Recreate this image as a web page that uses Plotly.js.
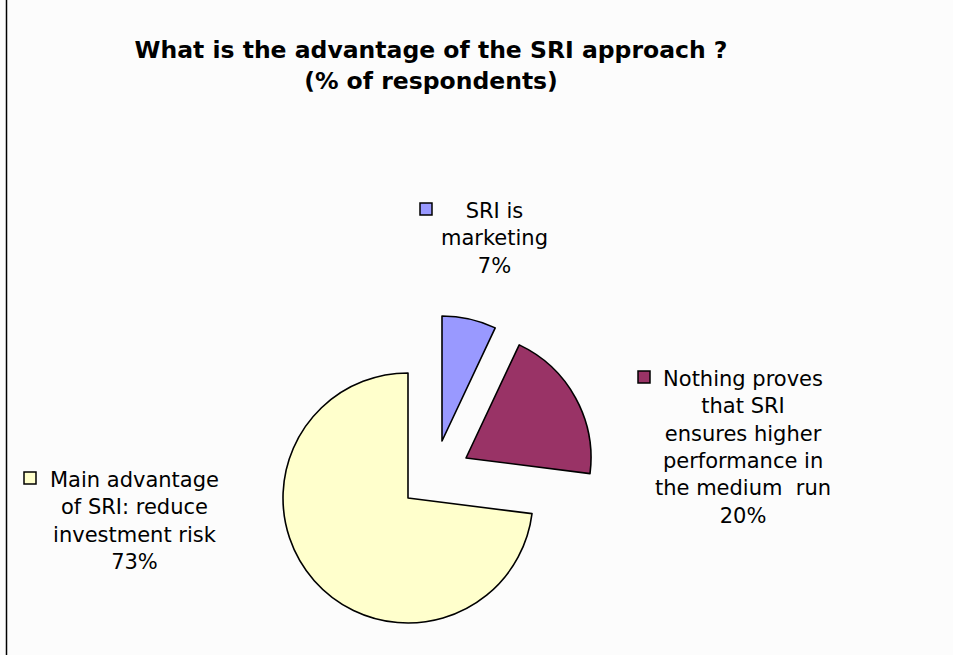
<!DOCTYPE html>
<html>
<head>
<meta charset="utf-8">
<script src="https://cdn.plot.ly/plotly-3.0.1.min.js"></script>
<style>html,body{margin:0;padding:0;background:#fcfcfc;overflow:hidden;}</style>
</head>
<body>
<div id="chart" style="width:953px;height:655px;"></div>
<script>
// ---- data ----
var categories = ["SRI is<br>marketing", "Nothing proves<br>that SRI<br>ensures higher<br>performance in<br>the medium  run", "Main advantage<br>of SRI: reduce<br>investment risk"];
var values = [7, 20, 73];
var colors = ["#9999FF", "#993366", "#FFFFCC"];
var titleText = "<b>What is the advantage of the SRI approach ?<br>(% of respondents)</b>";

// ---- layout helpers (pixel -> paper) ----
var W = 953, H = 655;
function px(x) { return x / W; }
function py(y) { return 1 - y / H; }

// each slice drawn by its own pie trace (Excel-style explosion offsets)
var sliceCenters = [[442, 441], [466, 458], [408, 498]];
var R = 125;
var traces = values.map(function (v, k) {
  var c = sliceCenters[k];
  return {
    type: "pie",
    values: values,
    labels: categories,
    sort: false,
    direction: "clockwise",
    rotation: 0,
    textinfo: "none",
    hoverinfo: "label+percent",
    showlegend: false,
    domain: { x: [px(c[0] - R), px(c[0] + R)], y: [py(c[1] + R), py(c[1] - R)] },
    marker: {
      colors: colors.map(function (col, j) { return j === k ? col : "rgba(0,0,0,0)"; }),
      line: {
        color: "#000000",
        width: colors.map(function (col, j) { return j === k ? 1.6 : 0; })
      }
    }
  };
});

// label positions (block centre) and marker squares
var labelPos = [[495, 238], [743, 447], [134, 521]];
var markerPos = [[426, 209], [644, 377], [30, 478]];
var annotations = categories.map(function (c, k) {
  return {
    xref: "paper", yref: "paper",
    x: px(labelPos[k][0]), y: py(labelPos[k][1]),
    xanchor: "center", yanchor: "middle", align: "center",
    showarrow: false,
    text: c + "<br>" + values[k] + "%",
    font: { family: "DejaVu Sans", size: 21, color: "#000000" }
  };
});
var shapes = markerPos.map(function (m, k) {
  return {
    type: "rect", xref: "paper", yref: "paper",
    x0: px(m[0] - 6), x1: px(m[0] + 6), y0: py(m[1] + 6), y1: py(m[1] - 6),
    fillcolor: colors[k], line: { color: "#000000", width: 1.5 }
  };
});
shapes.push({ type: "line", xref: "paper", yref: "paper", x0: px(6.5), x1: px(6.5), y0: 0, y1: 1, line: { color: "#000000", width: 1.5 } });

var layout = {
  width: W, height: H,
  margin: { l: 0, r: 0, t: 0, b: 0 },
  paper_bgcolor: "#fcfcfc",
  plot_bgcolor: "#fcfcfc",
  title: {
    text: titleText,
    x: px(431), xanchor: "center",
    y: py(58), yanchor: "top",
    font: { family: "DejaVu Sans", size: 23.5, color: "#000000" }
  },
  annotations: annotations,
  shapes: shapes
};

Plotly.newPlot("chart", traces, layout, { displayModeBar: false, staticPlot: true });
</script>
</body>
</html>
